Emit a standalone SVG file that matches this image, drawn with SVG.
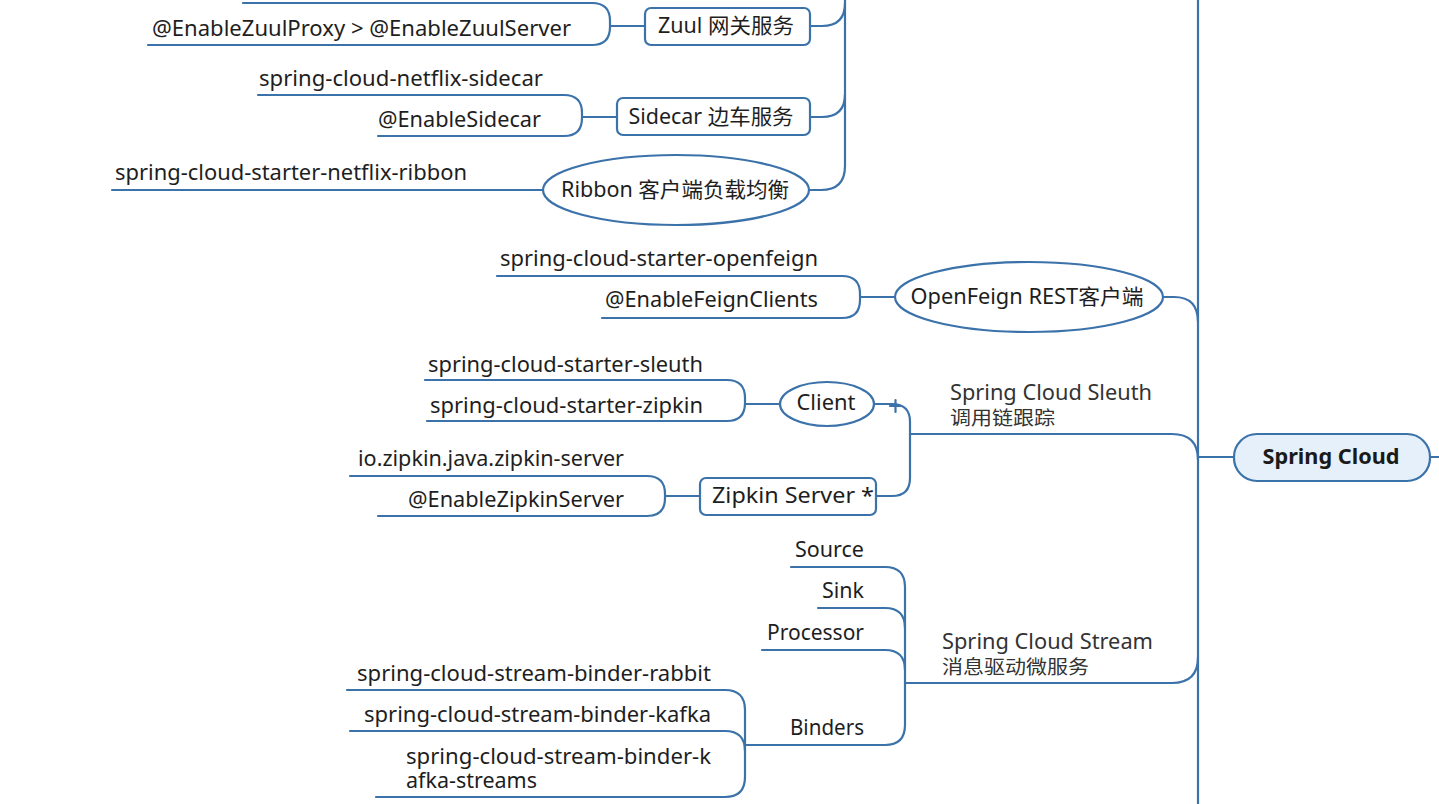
<svg xmlns="http://www.w3.org/2000/svg" width="1439" height="804" viewBox="0 0 1439 804">
<style>
.ln{fill:none;stroke:#3b72aa;stroke-width:2.2;stroke-linecap:round}
.nd{fill:#ffffff;stroke:#3b72aa;stroke-width:2.2}
.root{fill:#e6f0fa;stroke:#3b72aa;stroke-width:2.2}
.t{font-family:"Noto Sans","Noto Sans CJK SC",sans-serif;font-size:21px;fill:#1e1e1e}
.e{text-anchor:end}
.m{text-anchor:middle}
.lb{font-family:"Noto Sans","Noto Sans CJK SC",sans-serif;font-size:21px;fill:#333}
.cn{font-family:"Noto Sans CJK SC",sans-serif;font-size:19px;fill:#333}
.rt{font-family:"Noto Sans","Noto Sans CJK SC",sans-serif;font-size:21px;font-weight:bold;fill:#1a1a1a;text-anchor:middle}
</style>
<rect width="1439" height="804" fill="#ffffff"/>
<g id="connectors">
  <path class="ln" d="M1198,0 V804"/>
  <path class="ln" d="M1198,457 H1234"/>
  <path class="ln" d="M1430,457 H1439"/>
  <path class="ln" d="M845,0 V166 Q845,190 821,190 H810"/>
  <path class="ln" d="M810,26 H822 Q845,26 845,3"/>
  <path class="ln" d="M810,117 H822 Q845,117 845,94"/>
  <path class="ln" d="M1163,297 H1174 Q1198,297 1198,322"/>
  <path class="ln" d="M910,434 H1172 Q1198,434 1198,460"/>
  <path class="ln" d="M905,683 H1172 Q1198,683 1198,657"/>
  <path class="ln" d="M243,3 H592 Q610,3 610,21 V27 Q610,45 592,45 H148"/>
  <path class="ln" d="M610,26 H645"/>
  <path class="ln" d="M258,95 H564 Q582,95 582,113 V118 Q582,136 564,136 H378"/>
  <path class="ln" d="M582,117 H617"/>
  <path class="ln" d="M112,190 H543"/>
  <path class="ln" d="M497,276 H842 Q860,276 860,294 V300 Q860,318 842,318 H602"/>
  <path class="ln" d="M860,297 H895"/>
  <path class="ln" d="M875,404 H892 Q910,404 910,422 V478 Q910,496 892,496 H876"/>
  <path class="ln" d="M890,406 H901 M895.5,400 V412"/>
  <path class="ln" d="M425,380 H727 Q745,380 745,398 V403 Q745,421 727,421 H427"/>
  <path class="ln" d="M745,404 H780"/>
  <path class="ln" d="M350,476 H647 Q665,476 665,494 V498 Q665,516 647,516 H378"/>
  <path class="ln" d="M665,496 H700"/>
  <path class="ln" d="M791,567 H885 Q905,567 905,587 V725 Q905,745 885,745 H745"/>
  <path class="ln" d="M818,608 H885 Q905,608 905,628"/>
  <path class="ln" d="M762,650 H885 Q905,650 905,670"/>
  <path class="ln" d="M347,690 H725 Q745,690 745,710 V777 Q745,797 725,797 H376"/>
  <path class="ln" d="M350,731 H725 Q745,731 745,751"/>
</g>
<g id="root">
  <rect class="root" x="1234" y="434" width="196" height="47" rx="23"/>
  <text class="rt" x="1331" y="464" textLength="137" lengthAdjust="spacingAndGlyphs">Spring Cloud</text>
</g>
<g id="zuul">
  <rect class="nd" x="645" y="8" width="165" height="37" rx="6"/>
  <text class="t m" x="726" y="33" textLength="136" lengthAdjust="spacingAndGlyphs">Zuul 网关服务</text>
</g>
<g id="zuul-c1">
  <text class="t e" x="571" y="36" textLength="419" lengthAdjust="spacingAndGlyphs">@EnableZuulProxy &gt; @EnableZuulServer</text>
</g>
<g id="sidecar">
  <rect class="nd" x="617" y="98" width="193" height="37" rx="6"/>
  <text class="t m" x="711" y="124" textLength="165" lengthAdjust="spacingAndGlyphs">Sidecar 边车服务</text>
</g>
<g id="sidecar-c1"><text class="t e" x="543" y="86" textLength="284" lengthAdjust="spacingAndGlyphs">spring-cloud-netflix-sidecar</text></g>
<g id="sidecar-c2"><text class="t e" x="541" y="127" textLength="163" lengthAdjust="spacingAndGlyphs">@EnableSidecar</text></g>
<g id="ribbon">
  <ellipse class="nd" cx="676" cy="190" rx="133" ry="35"/>
  <text class="t m" x="675" y="197" textLength="228" lengthAdjust="spacingAndGlyphs">Ribbon 客户端负载均衡</text>
</g>
<g id="ribbon-c1"><text class="t" x="115" y="180" textLength="352" lengthAdjust="spacingAndGlyphs">spring-cloud-starter-netflix-ribbon</text></g>
<g id="openfeign">
  <ellipse class="nd" cx="1029" cy="297" rx="134" ry="35"/>
  <text class="t m" x="1027" y="304" textLength="233" lengthAdjust="spacingAndGlyphs">OpenFeign REST客户端</text>
</g>
<g id="openfeign-c1"><text class="t e" x="818" y="266" textLength="318" lengthAdjust="spacingAndGlyphs">spring-cloud-starter-openfeign</text></g>
<g id="openfeign-c2"><text class="t e" x="818" y="307" textLength="213" lengthAdjust="spacingAndGlyphs">@EnableFeignClients</text></g>
<g id="sleuth">
  <text class="lb" x="950" y="400" textLength="202" lengthAdjust="spacingAndGlyphs">Spring Cloud Sleuth</text>
  <text class="cn" x="950" y="425" textLength="105" lengthAdjust="spacingAndGlyphs">调用链跟踪</text>
</g>
<g id="client">
  <ellipse class="nd" cx="827" cy="404" rx="47" ry="22"/>
  <text class="t m" x="826" y="410" textLength="59" lengthAdjust="spacingAndGlyphs">Client</text>
</g>
<g id="client-c1"><text class="t e" x="703" y="372" textLength="275" lengthAdjust="spacingAndGlyphs">spring-cloud-starter-sleuth</text></g>
<g id="client-c2"><text class="t e" x="703" y="413" textLength="273" lengthAdjust="spacingAndGlyphs">spring-cloud-starter-zipkin</text></g>
<g id="zipkin">
  <rect class="nd" x="700" y="478" width="176" height="37" rx="6"/>
  <text class="t m" x="793" y="503" textLength="162" lengthAdjust="spacingAndGlyphs">Zipkin Server *</text>
</g>
<g id="zipkin-c1"><text class="t e" x="624" y="466" textLength="266" lengthAdjust="spacingAndGlyphs">io.zipkin.java.zipkin-server</text></g>
<g id="zipkin-c2"><text class="t e" x="624" y="507" textLength="216" lengthAdjust="spacingAndGlyphs">@EnableZipkinServer</text></g>
<g id="stream">
  <text class="lb" x="942" y="649" textLength="211" lengthAdjust="spacingAndGlyphs">Spring Cloud Stream</text>
  <text class="cn" x="942" y="674" textLength="147" lengthAdjust="spacingAndGlyphs">消息驱动微服务</text>
</g>
<g id="source"><text class="t e" x="864" y="557" textLength="69" lengthAdjust="spacingAndGlyphs">Source</text></g>
<g id="sink"><text class="t e" x="864" y="598" textLength="42" lengthAdjust="spacingAndGlyphs">Sink</text></g>
<g id="processor"><text class="t e" x="864" y="640" textLength="97" lengthAdjust="spacingAndGlyphs">Processor</text></g>
<g id="binders"><text class="t e" x="864" y="735" textLength="74" lengthAdjust="spacingAndGlyphs">Binders</text></g>
<g id="binder-rabbit"><text class="t e" x="711" y="681" textLength="354" lengthAdjust="spacingAndGlyphs">spring-cloud-stream-binder-rabbit</text></g>
<g id="binder-kafka"><text class="t e" x="711" y="722" textLength="347" lengthAdjust="spacingAndGlyphs">spring-cloud-stream-binder-kafka</text></g>
<g id="binder-kafka-streams">
  <text class="t" x="406" y="764" textLength="305" lengthAdjust="spacingAndGlyphs">spring-cloud-stream-binder-k</text>
  <text class="t" x="406" y="788" textLength="131" lengthAdjust="spacingAndGlyphs">afka-streams</text>
</g>
</svg>
